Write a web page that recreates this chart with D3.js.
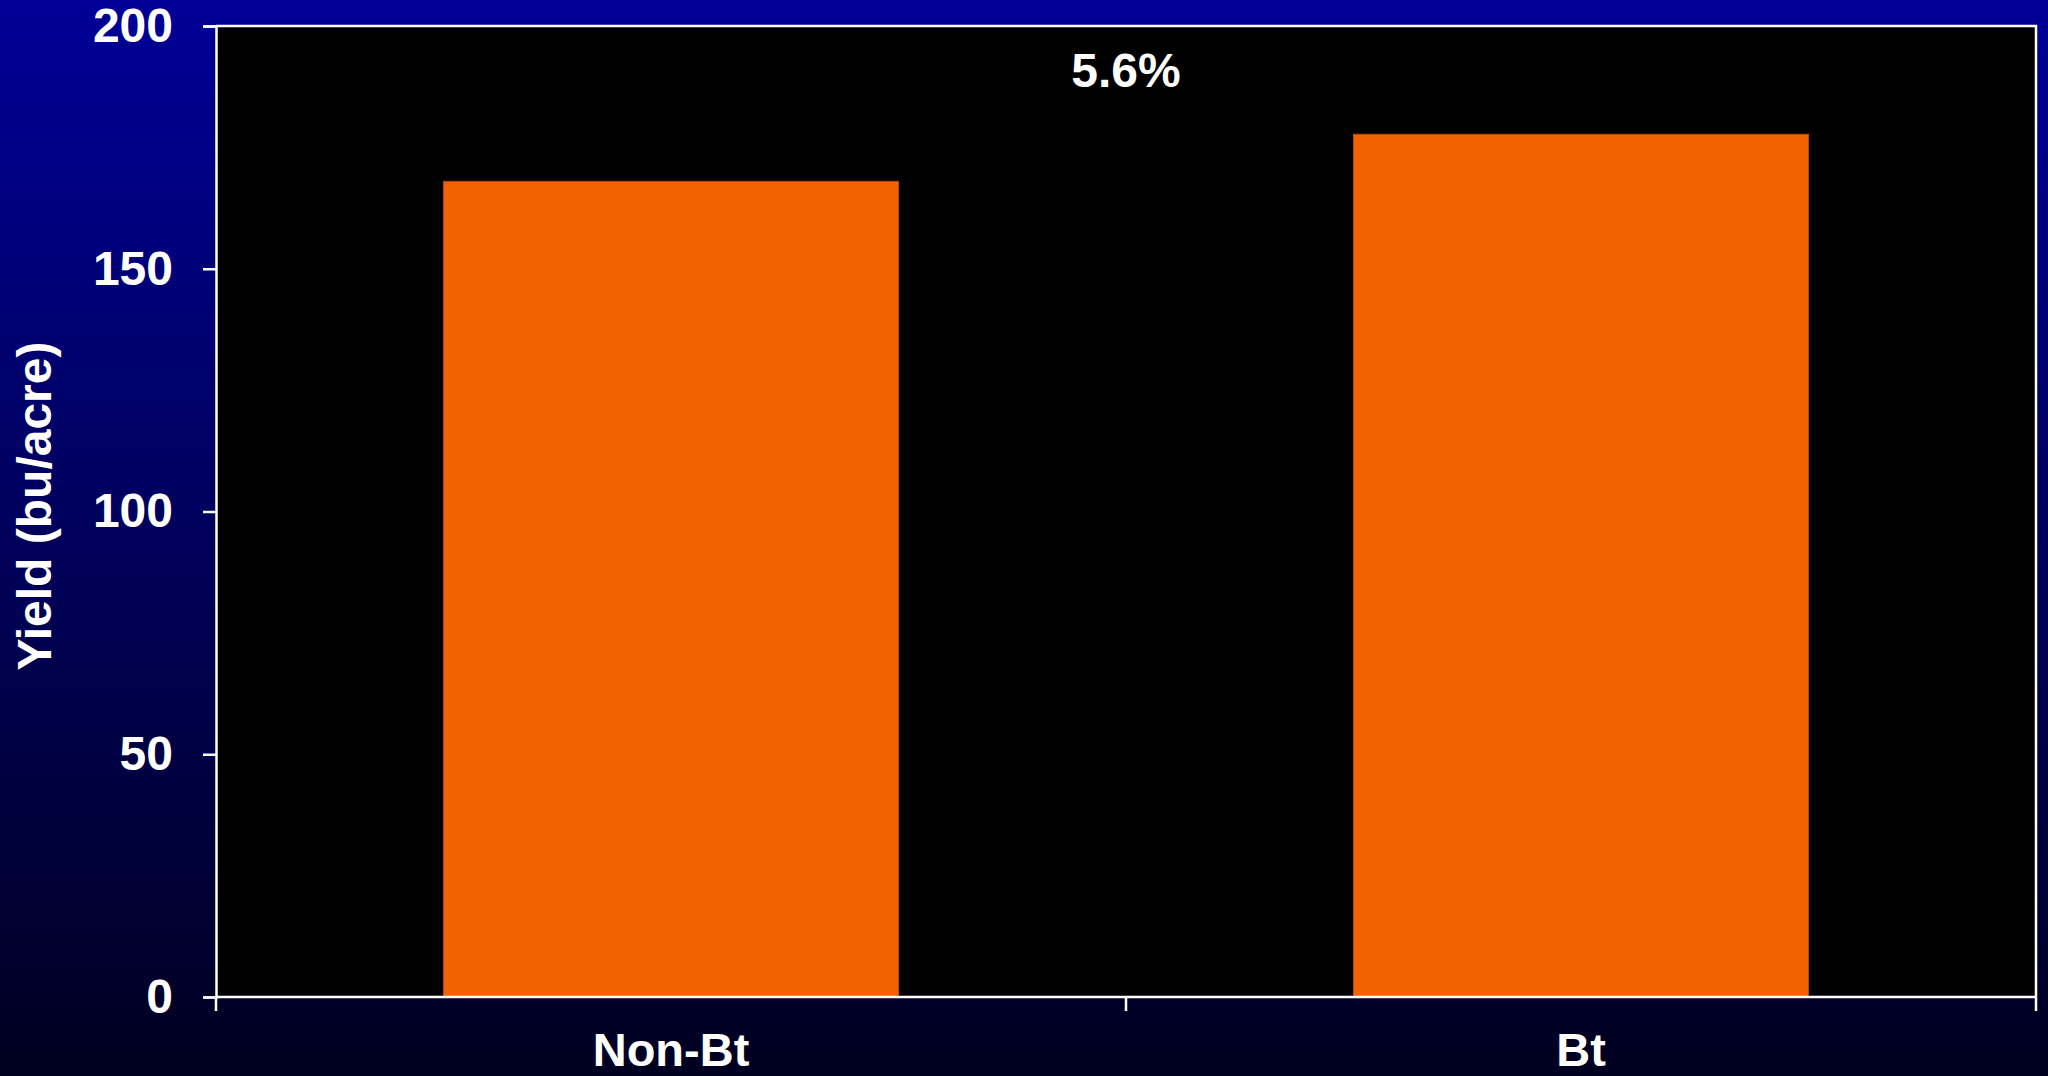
<!DOCTYPE html>
<html>
<head>
<meta charset="utf-8">
<script src="https://cdn.jsdelivr.net/npm/d3@7"></script>
<style>
  html, body { margin: 0; padding: 0; background: #000; }
  svg { display: block; }
  text { font-family: "Liberation Sans", Arial, sans-serif; font-weight: bold; fill: #fff; }
</style>
</head>
<body>
<svg id="chart" width="2048" height="1076"></svg>
<script>
// Data
const categories = ["Non-Bt", "Bt"];
const yieldValues = [168, 177.7];
const yTicks = [0, 50, 100, 150, 200];
const annotation = "5.6%";
const yTitle = "Yield (bu/acre)";

const W = 2048, H = 1076;
const margin = { left: 216, right: 12, top: 26, bottom: 79 };
const svg = d3.select("#chart");

// Background gradient
const defs = svg.append("defs");
const grad = defs.append("linearGradient").attr("id", "bg").attr("x1", 0).attr("y1", 0).attr("x2", 0).attr("y2", 1);
grad.append("stop").attr("offset", "0%").attr("stop-color", "#000096");
grad.append("stop").attr("offset", "100%").attr("stop-color", "#000020");
svg.append("rect").attr("width", W).attr("height", H).attr("fill", "url(#bg)");

const x0 = margin.left, x1 = W - margin.right;
const y0 = H - margin.bottom, y1 = margin.top;

// Outer band scale (category slots) and inner bar scale
const x = d3.scaleBand().domain(categories).range([x0, x1]).padding(0);
const xBar = d3.scaleBand().domain(categories).range([x0, x1]).paddingInner(0.5).paddingOuter(0.25);
const y = d3.scaleLinear().domain([0, 200]).range([y0, y1]);

// Plot area
svg.append("rect").attr("x", x0).attr("y", y1).attr("width", x1 - x0).attr("height", y0 - y1).attr("fill", "#000");

// Bars
svg.append("g").selectAll("rect").data(categories).join("rect")
  .attr("x", d => xBar(d))
  .attr("width", xBar.bandwidth())
  .attr("y", (d, i) => y(yieldValues[i]))
  .attr("height", (d, i) => y(0) - y(yieldValues[i]))
  .attr("fill", "#f26200")
  .attr("stroke", "#b84a00")
  .attr("stroke-width", 1);

// Frame (top and right borders)
svg.append("path")
  .attr("d", `M${x0},${y1}H${x1}V${y0}`)
  .attr("fill", "none").attr("stroke", "#fff").attr("stroke-width", 2.5);

// Y axis
const yAxis = d3.axisLeft(y).tickValues(yTicks).tickSize(13).tickPadding(30);
const gy = svg.append("g").attr("transform", `translate(${x0},0)`).call(yAxis);
gy.select(".domain").attr("stroke", "#fff").attr("stroke-width", 2.5);
gy.selectAll(".tick line").attr("stroke", "#fff").attr("stroke-width", 2.5);
gy.selectAll(".tick text").attr("fill", "#fff").style("font-size", "48px")
  .style("font-family", '"Liberation Sans", Arial, sans-serif').style("font-weight", "bold");

// X axis: ticks at band boundaries, labels at band centers
const gx = svg.append("g");
gx.append("line").attr("x1", x0).attr("x2", x1).attr("y1", y0).attr("y2", y0)
  .attr("stroke", "#fff").attr("stroke-width", 2.5);
const boundaries = categories.map(c => x(c)).concat([x1]);
gx.selectAll("line.tk").data(boundaries).join("line").attr("class", "tk")
  .attr("x1", d => d).attr("x2", d => d).attr("y1", y0).attr("y2", y0 + 14)
  .attr("stroke", "#fff").attr("stroke-width", 2.5);
gx.selectAll("text").data(categories).join("text")
  .attr("x", d => x(d) + x.bandwidth() / 2)
  .attr("y", 1066)
  .attr("text-anchor", "middle")
  .style("font-size", "47px")
  .text(d => d);

// Annotation
svg.append("text")
  .attr("x", (x0 + x1) / 2)
  .attr("y", 87)
  .attr("text-anchor", "middle")
  .style("font-size", "48px")
  .text(annotation);

// Y title
svg.append("text")
  .attr("transform", `translate(51,506) rotate(-90)`)
  .attr("text-anchor", "middle")
  .style("font-size", "48px")
  .text(yTitle);
</script>
</body>
</html>
